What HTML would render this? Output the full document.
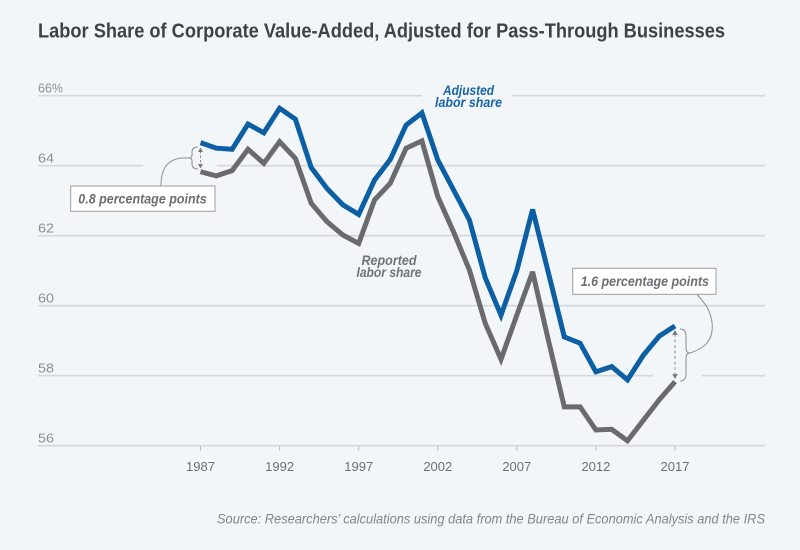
<!DOCTYPE html>
<html>
<head>
<meta charset="utf-8">
<style>
html,body{margin:0;padding:0;background:#f2f6f9;}
svg{display:block;}
text{font-family:"Liberation Sans",sans-serif;}
</style>
</head>
<body>
<svg width="800" height="550" viewBox="0 0 800 550" xmlns="http://www.w3.org/2000/svg">
<rect x="0" y="0" width="800" height="550" fill="#f2f6f9"/>
<text x="38" y="37.5" font-size="20" font-weight="bold" fill="#3d4248" textLength="687" lengthAdjust="spacingAndGlyphs">Labor Share of Corporate Value-Added, Adjusted for Pass-Through Businesses</text>

<g stroke="#d4d8dc" stroke-width="1.6" fill="none">
<line x1="38" y1="95.7" x2="422" y2="95.7"/>
<line x1="512" y1="95.7" x2="765" y2="95.7"/>
<line x1="38" y1="165.7" x2="143" y2="165.7"/>
<line x1="217" y1="165.7" x2="765" y2="165.7"/>
<line x1="38" y1="235.7" x2="765" y2="235.7"/>
<line x1="38" y1="305.7" x2="765" y2="305.7"/>
<line x1="38" y1="375.7" x2="653" y2="375.7"/>
<line x1="702" y1="375.7" x2="765" y2="375.7"/>
<line x1="38" y1="445.7" x2="765" y2="445.7"/>
</g>
<g stroke="#b9bdc1" stroke-width="1">
<line x1="200.5" y1="446" x2="200.5" y2="451"/>
<line x1="279.6" y1="446" x2="279.6" y2="451"/>
<line x1="358.7" y1="446" x2="358.7" y2="451"/>
<line x1="437.8" y1="446" x2="437.8" y2="451"/>
<line x1="516.8" y1="446" x2="516.8" y2="451"/>
<line x1="595.9" y1="446" x2="595.9" y2="451"/>
<line x1="675" y1="446" x2="675" y2="451"/>
</g>

<g font-size="13" fill="#8a8f94">
<text x="38" y="92.5" textLength="25" lengthAdjust="spacingAndGlyphs">66%</text>
<text x="38" y="162.5" textLength="16" lengthAdjust="spacingAndGlyphs">64</text>
<text x="38" y="232.5" textLength="16" lengthAdjust="spacingAndGlyphs">62</text>
<text x="38" y="302.5" textLength="16" lengthAdjust="spacingAndGlyphs">60</text>
<text x="38" y="372.5" textLength="16" lengthAdjust="spacingAndGlyphs">58</text>
<text x="38" y="442.5" textLength="16" lengthAdjust="spacingAndGlyphs">56</text>
</g>
<g font-size="13" fill="#6c7075" text-anchor="middle">
<text x="200.5" y="471">1987</text>
<text x="279.6" y="471">1992</text>
<text x="358.7" y="471">1997</text>
<text x="437.8" y="471">2002</text>
<text x="516.8" y="471">2007</text>
<text x="595.9" y="471">2012</text>
<text x="675" y="471">2017</text>
</g>

<polyline fill="none" stroke="#6a6b6e" stroke-width="5" stroke-linejoin="miter" stroke-miterlimit="3"
points="200.5,171.7 216.3,175.9 232.1,170.6 248.0,149.3 263.8,163.3 279.6,141.6 295.4,158.4 311.2,203.2 327.0,221.7 342.9,235.0 358.7,243.4 374.5,200.0 390.3,183.2 406.1,148.2 421.9,140.9 437.8,196.7 453.6,232.0 469.4,270.0 485.2,323.2 501.0,359.3 516.8,315.2 532.6,271.8 548.5,340.7 564.3,406.9 580.1,406.9 595.9,430.0 611.7,429.3 627.5,440.8 643.4,420.2 659.2,399.9 675.0,381.7"/>
<polyline fill="none" stroke="#0d5fa3" stroke-width="5" stroke-linejoin="miter" stroke-miterlimit="3"
points="200.5,142.6 216.3,148.2 232.1,149.3 248.0,124.1 263.8,132.8 279.6,108.3 295.4,119.2 311.2,167.5 327.0,188.5 342.9,204.9 358.7,214.4 374.5,180.1 390.3,159.4 406.1,125.1 421.9,112.9 437.8,160.0 453.6,190.0 469.4,220.0 485.2,277.7 501.0,315.2 516.8,270.7 532.6,209.5 548.5,273.2 564.3,336.9 580.1,343.2 595.9,371.9 611.7,366.6 627.5,379.9 643.4,355.1 659.2,336.2 675.0,326.0"/>

<g font-size="14" font-weight="bold" font-style="italic" text-anchor="middle">
<text x="468.5" y="95" fill="#1a64a6" textLength="51" lengthAdjust="spacingAndGlyphs">Adjusted</text>
<text x="468.5" y="107" fill="#1a64a6" textLength="67" lengthAdjust="spacingAndGlyphs">labor share</text>
<text x="389" y="265" fill="#707377" textLength="55" lengthAdjust="spacingAndGlyphs">Reported</text>
<text x="389" y="277" fill="#707377" textLength="65" lengthAdjust="spacingAndGlyphs">labor share</text>
</g>

<!-- annotation 1 -->
<g fill="none" stroke="#8a8d91" stroke-width="1">
<path d="M198,147 Q192,147 192,152 L192,155 Q192,158 189,158 Q192,158 192,161 L192,164 Q192,169 198,169"/>
<path d="M189,158 C170,157 161,165 161,186"/>
<line x1="200.5" y1="151" x2="200.5" y2="165" stroke-dasharray="2.5,2"/>
<path d="M680,329 Q686,329 686,336 L686,348 Q686,353 690,353 Q686,353 686,358 L686,374 Q686,381 680,381"/>
<path d="M690,353 C705,348 714,340 712,322 C710,308 702,300 697,294.5"/>
<line x1="675" y1="334" x2="675" y2="375" stroke-dasharray="3,2.5"/>
</g>
<g fill="#777a7e">
<path d="M200.5,147.5 L198,152 L203,152 Z"/>
<path d="M200.5,168.5 L198,164 L203,164 Z"/>
<path d="M675,330 L672.2,335 L677.8,335 Z"/>
<path d="M675,379 L672.2,374 L677.8,374 Z"/>
</g>

<rect x="70.7" y="186" width="144.3" height="25.3" fill="#ffffff" stroke="#9a9da1" stroke-width="1"/>
<text x="78.3" y="203.5" font-size="14" font-weight="bold" font-style="italic" fill="#6b6e72" textLength="128.4" lengthAdjust="spacingAndGlyphs">0.8 percentage points</text>
<rect x="572.7" y="268.3" width="143.3" height="26" fill="#ffffff" stroke="#9a9da1" stroke-width="1"/>
<text x="580.7" y="286" font-size="14" font-weight="bold" font-style="italic" fill="#6b6e72" textLength="128.3" lengthAdjust="spacingAndGlyphs">1.6 percentage points</text>

<text x="765" y="523.3" font-size="14" font-style="italic" fill="#80868c" text-anchor="end" textLength="548" lengthAdjust="spacingAndGlyphs">Source: Researchers’ calculations using data from the Bureau of Economic Analysis and the IRS</text>
</svg>
</body>
</html>
